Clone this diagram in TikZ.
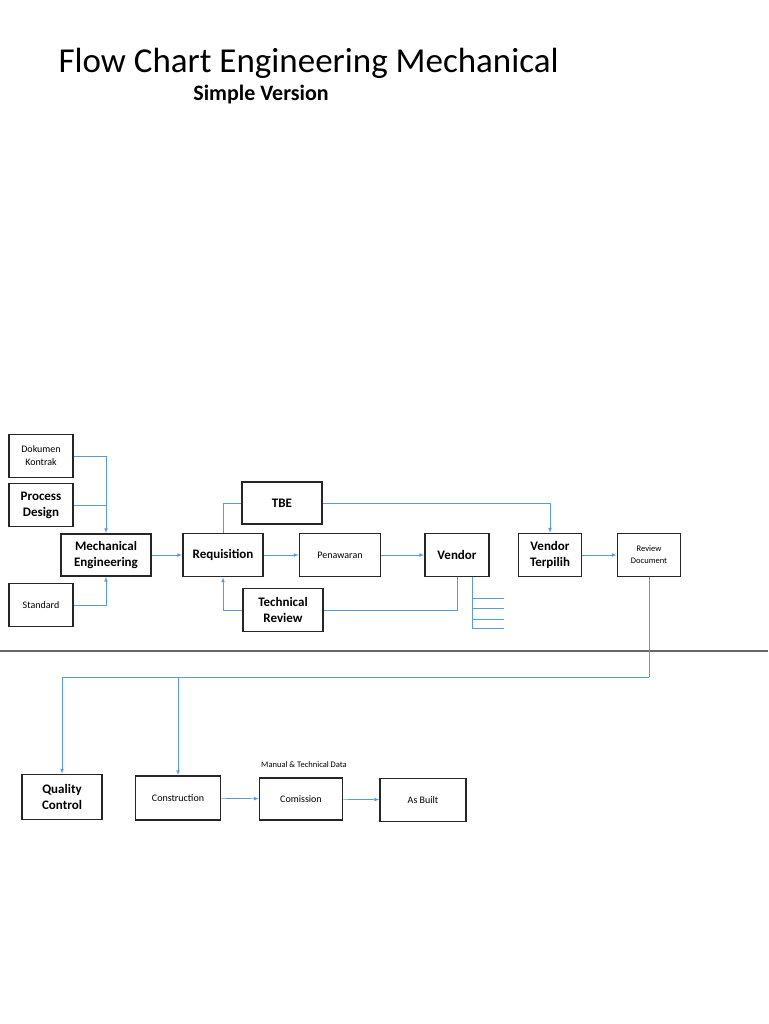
\documentclass[tikz,border=0pt]{standalone}
\usepackage{fontspec}
\setmainfont{Carlito}
\usepackage{tikz}
\usetikzlibrary{positioning,calc}

\definecolor{linkblue}{RGB}{91,155,213}

\tikzset{
  blk/.style={draw=black!85, line width=1.6pt, fill=white, align=center, inner sep=0pt,
    font=\fontsize{13}{16}\selectfont\bfseries},
  sblk/.style={blk, font=\fontsize{10}{13}\selectfont},
  link/.style={draw=linkblue, line width=0.7pt},
  arr/.style={link, -latex},
}

\begin{document}
\begin{tikzpicture}[x=1pt, y=-1pt]
  % Page frame
  \useasboundingbox (0,0) rectangle (768,1024);

  % Title
  \node[anchor=west, font=\fontsize{35}{38}\selectfont] (title) at (55,63) {Flow Chart Engineering Mechanical};
  \node[font=\fontsize{22}{24}\selectfont\bfseries] (sub) at (261,95) {Simple Version};

  % Upper boxes
  \node[sblk, minimum width=64, minimum height=43] (dok) at (41,456) {Dokumen\\Kontrak};
  \node[blk, minimum width=64, minimum height=43] (proc) at (41,505) {Process\\Design};
  \node[sblk, minimum width=64, minimum height=43] (std) at (41,605) {Standard};
  \node[blk, minimum width=90, minimum height=42] (mech) at (106,555) {Mechanical\\Engineering};
  \node[blk, minimum width=80, minimum height=43] (req) at (223,555) {Requisition};
  \node[blk, minimum width=80, minimum height=42] (tbe) at (282,503) {TBE};
  \node[sblk, minimum width=81, minimum height=43] (pen) at (340,555) {Penawaran};
  \node[blk, minimum width=80, minimum height=43] (trev) at (283,610) {Technical\\Review};
  \node[blk, minimum width=64, minimum height=43] (vend) at (457,555) {Vendor};
  \node[blk, minimum width=63, minimum height=43] (vterp) at (550,555) {Vendor\\Terpilih};
  \node[sblk, minimum width=63, minimum height=43, font=\fontsize{8.5}{12}\selectfont] (rdoc) at (649,555) {Review\\Document};

  % Lower boxes
  \node[blk, minimum width=80, minimum height=45] (qc) at (62,797) {Quality\\Control};
  \node[sblk, minimum width=85, minimum height=44] (cons) at (178,798) {Construction};
  \node[sblk, minimum width=83, minimum height=42] (com) at (301,799) {Comission};
  \node[sblk, minimum width=86, minimum height=43] (asb) at (423,800) {As Built};
  \node[font=\fontsize{8.5}{10}\selectfont] (man) at (304,765) {Manual \& Technical Data};

  % Separator
  \draw[black!60, line width=1.5pt] (0,651) -- (768,651);

  % Inputs to mechanical engineering
  \draw[arr] (dok.east) -| (mech.north);
  \draw[link] (proc.east) -- (proc.east -| mech.north);
  \draw[arr] (std.east) -| (mech.south);

  % Main row
  \draw[arr] (mech) -- (req);
  \draw[arr] (req) -- (pen);
  \draw[arr] (pen) -- (vend);
  \draw[arr] (vterp) -- (rdoc);
  \draw[link] (req.north) |- (tbe.west);
  \draw[arr] (tbe.east) -| (vterp.north);
  \draw[link] (vend.south) |- (trev.east);
  \draw[arr] (trev.west) -| (req.south);

  % Vendor list ticks
  \coordinate (vt) at (472,577);
  \draw[link] (vt) -- ++(0,51);
  \foreach \yy in {21,31,42,51}
    \draw[link] ($(vt)+(0,\yy)$) -- ++(32,0);

  % To construction phase
  \coordinate (bend) at (649,677);
  \draw[link] (rdoc.south) -- (bend);
  \draw[arr] (bend) -| (qc.north);
  \draw[arr] (cons.north |- bend) -- (cons.north);
  \draw[arr] (cons) -- (com);
  \draw[arr] (com) -- (asb);
\end{tikzpicture}
\end{document}
